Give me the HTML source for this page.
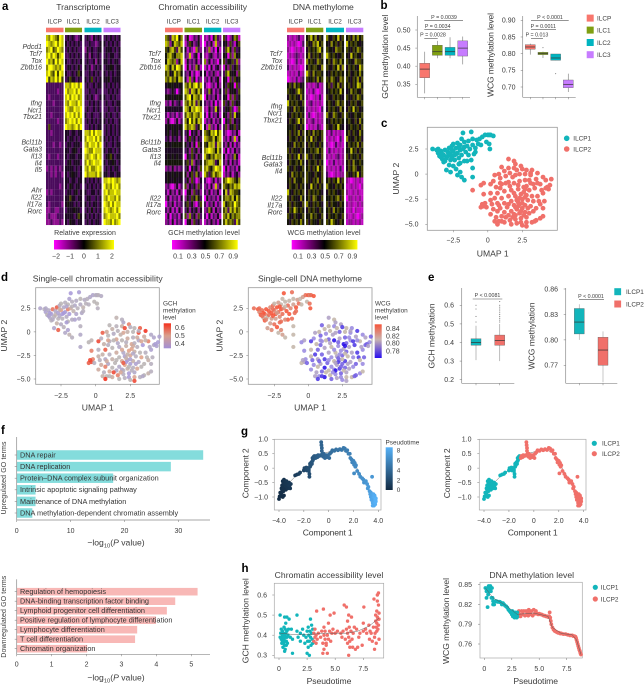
<!DOCTYPE html>
<html lang="en">
<head>
<meta charset="utf-8">
<title>ILC chromatin accessibility and DNA methylation figure</title>
<style>
html,body{margin:0;padding:0;background:#fff;width:644px;height:685px;overflow:hidden}
svg{display:block}
text{font-family:"Liberation Sans",sans-serif;fill:#3c3c3c;font-size:7px}
.letter{font-weight:700;font-size:11.5px;fill:#000}
.title{font-size:8.6px}
.axt{font-size:8.6px}
.gene{font-size:6.9px;font-style:italic;text-anchor:end}
.head{font-size:6.4px;text-anchor:middle}
.mid{text-anchor:middle}
.leg{font-size:6.4px}
.p{font-size:5.3px;text-anchor:middle}
.go{font-size:7.3px;fill:#333}
</style>
</head>
<body>
<svg id="fig" xmlns="http://www.w3.org/2000/svg" width="644" height="685" viewBox="0 0 644 685">
<defs>
<linearGradient id="gradHeat" x1="0" x2="1" y1="0" y2="0"><stop offset="0" stop-color="#ff00ff"/><stop offset="0.5" stop-color="#000"/><stop offset="1" stop-color="#ffff00"/></linearGradient>
<linearGradient id="gradGch" x1="0" x2="0" y1="0" y2="1"><stop offset="0" stop-color="#f5301c"/><stop offset="0.5" stop-color="#d9a08e"/><stop offset="1" stop-color="#a28fd6"/></linearGradient>
<linearGradient id="gradWcg" x1="0" x2="0" y1="0" y2="1"><stop offset="0" stop-color="#f5553a"/><stop offset="0.45" stop-color="#c9b4b0"/><stop offset="1" stop-color="#2a10f0"/></linearGradient>
<linearGradient id="gradPt" x1="0" x2="0" y1="0" y2="1"><stop offset="0" stop-color="#56b1f7"/><stop offset="1" stop-color="#132b43"/></linearGradient>
</defs>

<g id="panel-a">
<text class="letter" x="2" y="10">a</text>
<text class="title mid" x="83.3" y="10" textLength="54">Transcriptome</text>
<text class="title mid" x="202.7" y="10" textLength="88.7">Chromatin accessibility</text>
<text class="title mid" x="323.3" y="10" textLength="61">DNA methylome</text>

<text class="gene" x="42" y="49">Pdcd1</text>
<text class="gene" x="42" y="56">Tcf7</text>
<text class="gene" x="42" y="63">Tox</text>
<text class="gene" x="42" y="69.6">Zbtb16</text>
<text class="gene" x="42" y="105.6">Ifng</text>
<text class="gene" x="42" y="112.3">Ncr1</text>
<text class="gene" x="42" y="119">Tbx21</text>
<text class="gene" x="42" y="144.3">Bcl11b</text>
<text class="gene" x="42" y="151.3">Gata3</text>
<text class="gene" x="42" y="158.3">Il13</text>
<text class="gene" x="42" y="165.3">Il4</text>
<text class="gene" x="42" y="172">Il5</text>
<text class="gene" x="42" y="192.3">Ahr</text>
<text class="gene" x="42" y="199.3">Il22</text>
<text class="gene" x="42" y="206.3">Il17a</text>
<text class="gene" x="42" y="213.3">Rorc</text>

<text class="gene" x="161" y="56">Tcf7</text>
<text class="gene" x="161" y="63">Tox</text>
<text class="gene" x="161" y="69.6">Zbtb16</text>
<text class="gene" x="161" y="105.3">Ifng</text>
<text class="gene" x="161" y="112.3">Ncr1</text>
<text class="gene" x="161" y="119.3">Tbx21</text>
<text class="gene" x="161" y="144.3">Bcl11b</text>
<text class="gene" x="161" y="151.8">Gata3</text>
<text class="gene" x="161" y="158.8">Il13</text>
<text class="gene" x="161" y="165.3">Il4</text>
<text class="gene" x="161" y="200.3">Il22</text>
<text class="gene" x="161" y="207">Il17a</text>
<text class="gene" x="161" y="214.3">Rorc</text>

<text class="gene" x="282.3" y="56">Tcf7</text>
<text class="gene" x="282.3" y="63">Tox</text>
<text class="gene" x="282.3" y="69.6">Zbtb16</text>
<text class="gene" x="282.3" y="108.3">Ifng</text>
<text class="gene" x="282.3" y="115.3">Ncr1</text>
<text class="gene" x="282.3" y="122.3">Tbx21</text>
<text class="gene" x="282.3" y="159.8">Bcl11b</text>
<text class="gene" x="282.3" y="166.3">Gata3</text>
<text class="gene" x="282.3" y="173.3">Il4</text>
<text class="gene" x="282.3" y="200.3">Il22</text>
<text class="gene" x="282.3" y="207.3">Il17a</text>
<text class="gene" x="282.3" y="214.3">Rorc</text>

<text class="leg mid" x="85" y="235" style="font-size:7px" textLength="61.7">Relative expression</text>
<text class="leg mid" x="204" y="235" style="font-size:7px" textLength="71.7">GCH methylation level</text>
<text class="leg mid" x="324" y="235" style="font-size:7px" textLength="73">WCG methylation level</text>
<rect x="54" y="240" width="60" height="9.5" fill="url(#gradHeat)"/>
<rect x="172" y="240" width="65.7" height="9.5" fill="url(#gradHeat)"/>
<rect x="291.7" y="240" width="65.7" height="9.5" fill="url(#gradHeat)"/>
</g>

<g id="panel-b">
<text class="letter" x="380.5" y="9">b</text>
<text class="axt mid" transform="translate(388,56.7) rotate(-90)" textLength="84">GCH methylation level</text>
<text class="axt mid" transform="translate(493.5,55) rotate(-90)" textLength="84">WCG methylation level</text>
<text class="p" x="444" y="19">P = 0.0039</text>
<text class="p" x="437.7" y="28">P = 0.0034</text>
<text class="p" x="433" y="36.5">P = 0.0028</text>
<text class="p" x="550" y="18.8">P &lt; 0.0001</text>
<text class="p" x="543.3" y="27.8">P = 0.0011</text>
<text class="p" x="537" y="36.3">P = 0.013</text>
<path d="M424.3 20.7H463M424.3 29.7H450.3M424.3 38.7H437.7M531 20.3H568.7M531 29.3H556M531 38.3H543" stroke="#555" stroke-width=".6" fill="none"/>
<rect x="586.7" y="14.6" width="7" height="7" fill="#f8766d"/>
<rect x="586.7" y="26.6" width="7" height="7" fill="#7f9f12"/>
<rect x="586.7" y="39" width="7" height="7" fill="#00b4c0"/>
<rect x="586.7" y="51.2" width="7" height="7" fill="#c77cff"/>
<text class="leg" x="597" y="20.3">ILCP</text>
<text class="leg" x="597" y="32.3">ILC1</text>
<text class="leg" x="597" y="44.8">ILC2</text>
<text class="leg" x="597" y="57">ILC3</text>
</g>

<g id="panel-c">
<text class="letter" x="381" y="127">c</text>
<rect x="427.3" y="127.3" width="130" height="103" fill="none" stroke="#999" stroke-width=".8"/>
<text class="axt mid" transform="translate(399,178.7) rotate(-90)">UMAP 2</text>
<text class="axt mid" x="492.7" y="256.5">UMAP 1</text>
<circle cx="566.7" cy="138.3" r="2.8" fill="#12b5bb"/>
<circle cx="566.7" cy="149" r="2.8" fill="#f0706a"/>
<text class="leg" x="573.3" y="140.6">ILCP1</text>
<text class="leg" x="573.3" y="151.3">ILCP2</text>
</g>

<g id="panel-d">
<text class="letter" x="1" y="281">d</text>
<text class="title mid" x="97.7" y="281.5" textLength="130">Single-cell chromatin accessibility</text>
<text class="title mid" x="310" y="281.5" textLength="104">Single-cell DNA methylome</text>
<rect x="35.7" y="287.7" width="123.6" height="96.6" fill="none" stroke="#999" stroke-width=".8"/>
<rect x="248.3" y="287.7" width="123.7" height="96.6" fill="none" stroke="#999" stroke-width=".8"/>
<text class="axt mid" transform="translate(7,335.7) rotate(-90)">UMAP 2</text>
<text class="axt mid" transform="translate(222.5,335.7) rotate(-90)">UMAP 2</text>
<text class="axt mid" x="97.7" y="410.5">UMAP 1</text>
<text class="axt mid" x="310" y="410.5">UMAP 1</text>
<text class="leg" x="163" y="305.3">GCH</text>
<text class="leg" x="163" y="312.7">methylation</text>
<text class="leg" x="163" y="319.5">level</text>
<rect x="163.7" y="323.3" width="7.3" height="25" fill="url(#gradGch)"/>
<text class="leg" x="175" y="330" style="font-size:7px">0.6</text>
<text class="leg" x="175" y="338" style="font-size:7px">0.5</text>
<text class="leg" x="175" y="346" style="font-size:7px">0.4</text>
<text class="leg" x="375" y="305.3">WCG</text>
<text class="leg" x="375" y="312.3">methylation</text>
<text class="leg" x="375" y="319.3">level</text>
<rect x="374.7" y="324.3" width="7" height="33.7" fill="url(#gradWcg)"/>
<text class="leg" x="386" y="331" style="font-size:7px">0.84</text>
<text class="leg" x="386" y="338.6" style="font-size:7px">0.82</text>
<text class="leg" x="386" y="345.6" style="font-size:7px">0.80</text>
<text class="leg" x="386" y="353.6" style="font-size:7px">0.78</text>
</g>

<g id="panel-e">
<text class="letter" x="428" y="281">e</text>
<text class="axt mid" transform="translate(434.5,336) rotate(-90)" textLength="65">GCH methylation</text>
<text class="axt mid" transform="translate(534.5,336) rotate(-90)" textLength="67">WCG methylation</text>
<text class="p" x="487.5" y="297">P &lt; 0.0081</text>
<text class="p" x="591" y="298">P &lt; 0.0001</text>
<path d="M472.7 299H502.3M579 299.6H604" stroke="#555" stroke-width=".6" fill="none"/>
<rect x="614.3" y="288.2" width="6.8" height="7" fill="#12b5bb"/>
<rect x="614.3" y="300.5" width="6.8" height="7" fill="#f0706a"/>
<text class="leg" x="626" y="294">ILCP1</text>
<text class="leg" x="626" y="306.3">ILCP2</text>
</g>

<g id="panel-f">
<text class="letter" x="1" y="434">f</text>
<text class="leg mid" transform="translate(6,478) rotate(-90)" style="font-size:7px" textLength="73">Upregulated GO terms</text>
<text class="leg mid" transform="translate(6,616.7) rotate(-90)" style="font-size:7px" textLength="82">Downregulated GO terms</text>
<text class="axt mid" x="116" y="545.5">−log<tspan dy="1.8" font-size="5.8">10</tspan><tspan dy="-1.8">(</tspan><tspan font-style="italic">P</tspan> value)</text>
<text class="axt mid" x="116" y="680.5">−log<tspan dy="1.8" font-size="5.8">10</tspan><tspan dy="-1.8">(</tspan><tspan font-style="italic">P</tspan> value)</text>
</g>

<g id="panel-g">
<text class="letter" x="241" y="435">g</text>
<rect x="274.3" y="439.3" width="106.7" height="70.7" fill="none" stroke="#aaa" stroke-width=".7"/>
<rect x="479.3" y="439.3" width="106.7" height="70.7" fill="none" stroke="#aaa" stroke-width=".7"/>
<text class="axt mid" transform="translate(248.5,473.3) rotate(-90)" textLength="50">Component 2</text>
<text class="axt mid" transform="translate(450,473.3) rotate(-90)" textLength="50">Component 2</text>
<text class="axt mid" x="327.7" y="535.5" textLength="50">Component 1</text>
<text class="axt mid" x="532.7" y="535.5" textLength="50">Component 1</text>
<text class="leg" x="385.5" y="444.5">Pseudotime</text>
<rect x="385.7" y="447.3" width="7" height="42.7" fill="url(#gradPt)"/>
<text class="leg" x="396.7" y="452.6">8</text>
<text class="leg" x="396.7" y="462.6">6</text>
<text class="leg" x="396.7" y="472.3">4</text>
<text class="leg" x="396.7" y="482.3">2</text>
<text class="leg" x="396.7" y="492">0</text>
<circle cx="594.3" cy="443.3" r="2.6" fill="#12b5bb"/>
<circle cx="594.3" cy="453.7" r="2.6" fill="#f0706a"/>
<text class="leg" x="602" y="445.6">ILCP1</text>
<text class="leg" x="602" y="456">ILCP2</text>
</g>

<g id="panel-h">
<text class="letter" x="241.5" y="572">h</text>
<rect x="274.3" y="583.3" width="109.4" height="74.7" fill="none" stroke="#aaa" stroke-width=".7"/>
<rect x="480" y="582.3" width="102.3" height="75.7" fill="none" stroke="#aaa" stroke-width=".7"/>
<text class="title mid" x="329" y="578" textLength="108.7">Chromatin accessibility level</text>
<text class="title mid" x="531.7" y="578" textLength="84.7">DNA methylation level</text>
<text class="axt mid" x="329" y="684" textLength="44.7">Pseudotime</text>
<text class="axt mid" x="535.7" y="684" textLength="44.7">Pseudotime</text>
<text class="axt mid" transform="translate(248.5,620.7) rotate(-90)" textLength="85">GCH methylation level</text>
<text class="axt mid" transform="translate(449,621) rotate(-90)" textLength="86">WCG methylation level</text>
<circle cx="595.3" cy="587.3" r="2.6" fill="#12b5bb"/>
<circle cx="595.3" cy="599" r="2.6" fill="#f0706a"/>
<text class="leg" x="600.7" y="589.6">ILCP1</text>
<text class="leg" x="600.7" y="601.3">ILCP2</text>
</g>
</svg>

<script>
/* ===== DATA ===== */
const heatGroups = ['ILCP','ILC1','ILC2','ILC3'];
const heatTranscriptome = [
"87987698 34343234 34324343 34343434","98789798 43434343 33433234 43434343","78967987 34343433 24343344 34443434","89798689 33434343 34243343 34344334",
"97869798 43343434 34334243 44343443","79987879 34434353 43423434 34454344","89769698 43343464 33434343 43434344","96879796 34644343 43463434 44534444",
"33333333 88798979 34334344 34343434","33333233 97889798 33433433 33434343","32333333 89798978 34343234 43343433","33323333 87988798 33434343 34334344",
"33333333 98779889 34334343 33433434","33233333 89897979 43343334 34343343","33333233 78989798 34343434 43434334","36333333 98878979 33434344 34343434",
"33233333 44344344 88797988 34343434","33333333 43443434 79889797 43434343","33323323 34434443 87988979 34334344","33333333 44345434 98779888 43443434",
"32333233 43444344 87898798 34564344","33333333 34534443 79789889 43445434","23232323 44443434 87977898 34343443","33232332 43454434 97888797 44344344",
"33333333 44344344 43434343 88989878","33333323 43543443 34343434 97879897","23233333 34434534 43344343 89788988","33333333 44644344 34433434 87988797",
"32333332 45443434 43434434 98797988","22332233 34445443 34353434 89878979","23222333 44443464 43434343 78988897","22322232 43544344 34343443 98879789"
];
const heatChromatin = [
"76387957 25013241 21304732 63024761","87258768 13642351 03241823 45263146","65786386 41320732 32713041 36852634","57865778 32813504 21342132 54062745",
"58767258 14232413 72413204 63546372","87586986 05132741 13041342 15263463","67458675 32413014 41324213 36854526","76867587 41725032 23142351 54063645",
"45554545 76868968 31023142 53645063","32353035 87387586 23741324 36254536","55454555 68958768 04232413 45062635","23142342 76868375 32314031 63526354",
"44444444 87587987 21423842 35463026","31323132 68768768 30413241 54263845","24102413 75968587 13241324 05362534","45454545 86787358 41723142 36254635",
"45354535 35043524 76587968 32013241","34243424 24635243 87668578 23142814","55455555 53425064 65878387 32514132","44444444 34263524 78987586 14031423",
"45454544 05364253 86576877 41323741","55555555 46372435 67887358 32414231","23242323 35043526 78657987 04132314","45454545 52463742 86368678 13241342",
"45445444 35263024 31024132 67987657","23102413 62435263 23141824 76576878","31423142 04526342 32413241 58387665","24132314 25364753 04232314 67768586",
"03241323 46352036 31324132 85676976","32413142 35243524 23741423 67386867","14032314 62735263 30413241 76857677","23141323 04526342 13242314 68676386"
];
const heatMethylome = [
"21212312 56857465 75465846 56475756","12121013 65476856 54756465 85656545","21012121 46565785 65547665 65465765","12123212 57465646 86565456 54856546",
"21013121 75654765 56476575 65547665","31212101 46566547 65465847 46565486","12121312 86475665 54656565 56456575","01213123 65564756 65765476 65465746",
"56475645 21212312 56365746 56465875","65546865 12131012 45656585 45756546","46565475 21012131 65465654 65465765","85656546 12312121 56546756 54656456",
"65475655 21212103 46565475 46585645","54656565 13101212 75476546 65456556","46546856 21231212 54656565 56546475","55565465 02121321 65465854 45655646",
"56465746 56475656 21312121 56465475","46556465 65846546 12121031 75546564","55475656 46565465 21013121 46565746","64655465 55656756 13121212 55856465",
"56465846 75465546 21212312 64655646","46556575 46556465 02131212 56475565","65465456 56465856 21212131 46576456","54756565 65546546 31012122 65465846",
"56475556 65465746 56465846 21012121","46556465 54856465 75546565 11212102","85465656 46565654 46565456 21121211","64655475 56476546 55656746 02212121",
"56465546 75465654 64655465 21211212","46586565 46565465 56475655 11202111","65465456 55756546 46556546 21121012","54656575 64655465 65865465 12212121"
];
const heatExprTickLabels = ['−2','−1','0','1','2'];
const heatMethTickLabels = ['0.1','0.3','0.5','0.7','0.9'];

const bCategories = ['ILCP','ILC1','ILC2','ILC3'];
const bGchTicks = [0.35,0.40,0.45,0.50];
const bGchTickLabels = ['0.35','0.40','0.45','0.50'];
const bGchQ1 = [0.368,0.430,0.430,0.428];
const bGchMedian = [0.392,0.440,0.440,0.450];
const bGchQ3 = [0.408,0.458,0.452,0.470];
const bGchLow = [0.325,0.422,0.422,0.405];
const bGchHigh = [0.440,0.470,0.480,0.482];
const bWcgTicks = [0.70,0.75,0.80,0.85,0.90];
const bWcgTickLabels = ['0.70','0.75','0.80','0.85','0.90'];
const bWcgQ1 = [0.813,0.797,0.780,0.698];
const bWcgMedian = [0.820,0.801,0.787,0.708];
const bWcgQ3 = [0.827,0.804,0.799,0.721];
const bWcgLow = [0.797,0.787,0.780,0.685];
const bWcgHigh = [0.830,0.806,0.799,0.740];
const bWcgOutliers = [[],[0.818],[0.740],[]];

const umapTicksX = [-2.5,0,2.5];
const umapTickLabelsX = ['−2.5','0','2.5'];
const umapTicksY = [-5,-2.5,0,2.5];
const umapTickLabelsY = ['−5.0','−2.5','0','2.5'];
const umapIlcp1 = [
[-4.0,2.5],[-3.7,2.4],[-3.6,2.1],[-3.5,1.8],[-3.3,1.5],[-3.4,2.3],[-3.1,2.4],[-3.2,1.9],[-3.0,1.6],[-2.9,2.2],
[-2.9,1.8],[-2.8,2.6],[-2.7,2.0],[-2.7,1.4],[-2.6,2.8],[-2.6,1.7],[-2.5,2.3],[-2.5,3.0],[-2.4,1.9],[-2.4,1.4],
[-2.3,2.6],[-2.2,2.1],[-2.2,3.1],[-2.1,1.6],[-2.0,2.4],[-2.0,2.9],[-1.9,1.9],[-1.9,3.5],[-1.8,4.1],[-1.8,2.5],
[-1.7,3.2],[-1.6,2.2],[-1.5,2.8],[-1.4,3.3],[-1.4,1.9],[-1.3,2.5],[-1.2,4.2],[-1.1,3.5],[-1.1,2.9],[-1.0,2.0],
[-0.9,2.6],[-0.8,3.4],[-0.7,3.0],[-0.6,3.5],[-0.4,3.7],[-0.2,3.9],[-0.1,3.2],[0.0,3.9],[0.1,3.9],[0.2,3.9],
[0.1,3.0],[0.15,2.5],[-3.0,0.4],[-2.5,0.8],[-2.7,0.2],[-2.3,0.5],[-2.2,-0.1],[-2.0,0.2],[-1.9,-0.3],[-1.7,-0.6],
[-1.1,-0.3],[-1.1,0.6],[-1.5,1.3],[-2.0,1.1],[-2.8,0.9],[-3.2,1.2],[-2.1,1.0],[-1.7,1.3],[-3.6,2.5],[-0.9,2.2],
[-3.3,2.0],[-3.1,1.3],[-2.6,2.4],[-2.3,2.0],[-2.1,2.7],[-1.7,2.7],[-0.5,2.9],[-1.2,1.4],[0.4,3.8],[-3.4,1.7]
];
const umapIlcp2 = [
[1.5,1.5],[1.9,1.3],[2.0,1.0],[1.0,0.7],[1.5,0.6],[1.9,0.6],[2.4,0.8],[2.5,0.5],[2.8,0.4],[3.2,0.4],
[3.6,0.1],[4.0,-0.3],[4.6,-0.5],[4.2,-0.6],[4.5,-1.1],[4.2,-1.4],[3.8,-1.0],[3.5,-0.5],[3.1,-0.1],[2.7,0.0],
[2.3,0.0],[2.0,-0.1],[1.6,0.1],[1.3,-0.2],[0.9,-0.4],[0.5,-0.1],[0.8,0.0],[0.4,-0.7],[-0.3,-0.9],[-0.5,-1.1],
[0.2,-1.0],[0.6,-1.3],[1.0,-1.0],[1.5,-0.8],[1.9,-0.9],[2.3,-0.7],[2.7,-0.6],[3.1,-0.9],[3.4,-1.4],[3.0,-1.6],
[2.6,-1.3],[2.2,-1.5],[1.7,-1.6],[1.2,-1.7],[0.7,-1.9],[0.2,-1.9],[-0.3,-2.0],[-1.1,-1.6],[0.5,-2.4],[1.0,-2.4],
[1.5,-2.2],[2.0,-2.2],[2.4,-2.0],[2.8,-2.1],[3.2,-2.2],[3.6,-2.2],[4.0,-1.9],[4.3,-1.3],[3.7,-2.7],[3.3,-2.7],
[2.9,-2.6],[2.5,-2.5],[2.1,-2.6],[1.7,-2.7],[1.2,-2.9],[0.7,-2.9],[0.3,-3.0],[-0.3,-3.2],[-0.5,-3.3],[-0.2,-2.9],
[-0.4,-3.0],[-0.1,-3.3],[0.4,-3.5],[0.9,-3.4],[1.4,-3.3],[1.9,-3.1],[2.3,-3.0],[2.7,-3.1],[3.1,-3.2],[3.5,-3.4],
[4.0,-3.4],[3.8,-3.0],[2.5,-3.4],[2.1,-3.5],[1.7,-3.7],[1.2,-3.8],[0.7,-3.7],[0.2,-4.0],[0.6,-4.3],[1.0,-4.2],
[1.5,-4.1],[1.9,-4.0],[2.3,-3.9],[2.7,-3.8],[3.0,-3.9],[3.5,-4.6],[3.8,-4.4],[4.0,-4.2],[2.8,-4.3],[2.4,-4.4],
[2.0,-4.5],[1.6,-4.6],[1.2,-4.8],[0.8,-4.7],[0.5,-4.7],[0.7,-5.0],[1.7,-5.0],[2.1,-4.9],[2.4,-4.8],[2.8,-4.8],
[2.8,-5.2],[2.5,-5.1],[3.2,-4.8],[3.4,-4.7],[2.2,-3.2],[2.5,-2.9],[2.3,-2.4],[2.6,-1.8],[2.8,-1.2],[3.0,-0.6],
[1.6,-1.2],[1.3,-0.9],[0.9,-0.9],[1.8,-0.3],[2.1,0.4],[2.2,-1.1],[1.9,-1.9],[2.9,-3.4],[2.4,-3.7],[2.0,-4.1],
[1.3,-4.3],[3.3,-3.7],[4.1,-2.7],[3.9,-1.6],[3.3,-1.0],[0.2,-2.6],[0.9,-1.4],[2.7,-1.5],[3.6,-0.9],[4.4,-1.5],
[1.0,-4.7],[1.8,-4.3],[2.6,-4.1],[2.2,-2.8],[2.0,-3.3],[2.7,-2.3],[1.5,-3.0],[0.8,-3.1],[3.1,0.1],[1.2,0.3]
];
const gchIlcp1 = [
.39,.42,.38,.44,.40,.41,.56,.37,.42,.40,.45,.58,.38,.43,.41,.40,.52,.44,.36,.43,
.40,.37,.42,.41,.55,.44,.36,.38,.36,.48,.42,.45,.40,.41,.39,.43,.37,.44,.41,.40,
.45,.41,.43,.42,.40,.39,.44,.42,.41,.43,.44,.42,.39,.41,.58,.43,.40,.38,.45,.42,
.40,.42,.38,.44,.46,.43,.37,.41,.40,.42,.37,.41,.46,.36,.39,.43,.42,.40,.41,.38
];
const gchIlcp2 = [
.45,.42,.40,.44,.43,.47,.55,.42,.44,.58,.62,.40,.38,.39,.37,.41,.55,.48,.60,.44,
.46,.50,.43,.41,.44,.58,.48,.42,.45,.44,.60,.46,.42,.50,.44,.48,.42,.40,.36,.42,
.50,.46,.40,.44,.58,.42,.55,.40,.46,.42,.48,.40,.52,.46,.44,.42,.38,.37,.44,.52,
.42,.50,.38,.44,.46,.40,.42,.60,.58,.55,.60,.42,.48,.40,.44,.50,.38,.46,.40,.44,
.42,.46,.37,.52,.40,.44,.55,.48,.42,.50,.40,.38,.46,.42,.50,.44,.46,.42,.40,.36,
.42,.55,.48,.44,.46,.62,.44,.42,.36,.50,.60,.44,.42,.40,.36,.38,.46,.52,.42,.48,
.40,.44,.50,.46,.60,.42,.50,.38,.44,.42,.60,.44,.42,.40,.50,.46,.42,.48,.46,.38,
.44,.50,.42,.46,.58,.40,.44,.48,.42,.46
];
const wcgIlcp1 = [
.84,.85,.83,.85,.82,.84,.85,.84,.81,.85,.84,.83,.85,.82,.84,.85,.83,.81,.85,.82,
.85,.84,.82,.83,.85,.81,.84,.81,.85,.83,.81,.85,.84,.81,.85,.83,.84,.81,.82,.84,
.85,.82,.84,.81,.82,.84,.81,.85,.83,.84,.84,.85,.82,.84,.83,.85,.81,.83,.82,.81,
.81,.81,.85,.84,.82,.85,.84,.83,.84,.84,.85,.83,.84,.82,.85,.81,.81,.84,.85,.84
];
const wcgIlcp2 = [
.80,.81,.80,.78,.81,.79,.80,.77,.81,.79,.77,.79,.78,.80,.79,.78,.81,.80,.79,.81,
.78,.80,.81,.79,.78,.80,.81,.79,.80,.79,.77,.81,.79,.78,.76,.80,.78,.79,.77,.80,
.76,.79,.81,.80,.78,.81,.79,.81,.77,.78,.80,.81,.79,.78,.80,.77,.79,.78,.77,.79,
.81,.78,.80,.79,.77,.80,.78,.80,.81,.79,.80,.78,.79,.80,.78,.81,.79,.77,.80,.78,
.79,.81,.78,.80,.79,.76,.81,.79,.80,.78,.81,.79,.77,.78,.80,.78,.79,.81,.80,.78,
.79,.81,.76,.79,.80,.77,.78,.80,.79,.81,.80,.79,.81,.78,.77,.81,.79,.80,.78,.79,
.80,.81,.79,.80,.81,.78,.79,.80,.78,.76,.81,.79,.78,.80,.77,.81,.78,.76,.79,.80,
.77,.79,.81,.78,.80,.81,.79,.78,.80,.81
];

const eGchTicks = [0.2,0.3,0.4,0.5,0.6];
const eGchTickLabels = ['0.2','0.3','0.4','0.5','0.6'];
const eGchQ1 = [0.385,0.385];
const eGchMedian = [0.400,0.410];
const eGchQ3 = [0.420,0.440];
const eGchLow = [0.305,0.300];
const eGchHigh = [0.490,0.500];
const eGchOutliers = [[0.51,0.54,0.58,0.60],[0.51,0.52,0.53,0.54,0.55,0.56,0.57,0.58,0.59,0.60,0.62]];
const eWcgTicks = [0.77,0.80,0.83,0.86];
const eWcgTickLabels = ['0.77','0.80','0.83','0.86'];
const eWcgQ1 = [0.807,0.770];
const eWcgMedian = [0.821,0.788];
const eWcgQ3 = [0.837,0.803];
const eWcgLow = [0.800,0.750];
const eWcgHigh = [0.842,0.810];

const goUpTerms = ['DNA repair','DNA replication','Protein–DNA complex subunit organization','Intrinsic apoptotic signaling pathway','Maintenance of DNA methylation','DNA methylation-dependent chromatin assembly'];
const goUpValues = [34.6,28.6,17.9,3.5,3.5,2.9];
const goUpTicks = [0,10,20,30];
const goDownTerms = ['Regulation of hemopoiesis','DNA-binding transcription factor binding','Lymphoid progenitor cell differentiation','Positive regulation of lymphocyte differentiation','Lymphocyte differentiation','T cell differentiation','Chromatin organization'];
const goDownValues = [5.18,4.54,4.30,3.99,3.45,3.39,2.02];
const goDownTicks = [0,1,2,3,4,5];

const trajTicksX = [-4,-2,0,2,4];
const trajTickLabelsX = ['−4.0','−2.0','0','2.0','4.0'];
const trajTicksY = [-1,-0.5,0,0.5,1];
const trajTickLabelsY = ['−1.0','−0.5','0','0.5','1.0'];
const trajClusterSplit = 3.1;
const trajPoints = [
[-4,-1.07,0.1],[-3.95,-.98,.15],[-3.9,-.85,.2],[-3.85,-.95,.2],[-3.8,-.7,.3],[-3.8,-.85,.25],[-3.75,-.6,.35],[-3.75,-.75,.3],[-3.7,-1,.1],[-3.7,-.45,.5],
[-3.7,-.6,.45],[-3.65,-.8,.35],[-3.65,-.5,.5],[-3.6,-.95,.15],[-3.6,-.7,.4],[-3.6,-.4,.6],[-3.55,-.55,.55],[-3.5,-.6,.6],[-3.5,-.45,.6],[-3.45,-.75,.4],
[-3.45,-.55,.65],[-3.4,-.65,.6],[-3.4,-.45,.7],[-3.35,-.55,.7],[-3.3,-.7,.6],[-3.25,-.6,.8],[-3.2,-.5,.85],[-3.15,-.6,.9],[-3.05,-.55,.95],[-3.1,-.7,.8],
[-2.7,-.25,1.1],[-2.55,-.22,1.2],[-2.4,-.2,1.35],[-2.3,-.15,1.5],[-2.0,-.08,1.7],[-1.95,0,1.8],[-1.9,-.05,1.85],[-1.8,.02,2],[-1.75,-.08,2.1],[-1.7,0,2.15],
[-1.65,-.02,2.2],[-1.6,-.1,2.25],[-1.55,-.2,2.3],[-1.55,-.3,2.3],[-1.6,-.05,2.35],[-1.5,.05,2.4],[-1.5,.15,2.5],[-1.45,.1,2.55],[-1.4,.2,2.6],[-1.35,.15,2.7],
[-1.3,.25,2.8],[-1.3,.35,2.85],[-1.25,.3,2.9],[-1.2,.4,3.0],[-1.15,.42,3.05],[-1.05,.35,3.15],[-1,.42,3.2],[-.9,.38,3.3],[-.85,.45,3.4],[-.75,.42,3.5],
[-.65,.45,3.6],[-.6,.9,3.7],[-.58,.8,3.7],[-.55,.7,3.75],[-.55,.6,3.8],[-.5,.5,3.85],[-.45,.4,3.9],[-.4,.5,3.95],[-.3,.35,4],[-.2,.45,4.1],
[-.15,.38,4.15],[-.05,.45,4.2],[.05,.35,4.3],[.1,.5,4.35],[.2,.55,4.4],[.3,.62,4.5],[.45,.6,4.6],[.6,.65,4.7],[.75,.62,4.8],[.9,.66,4.9],
[1.05,.63,5],[1.2,.7,5.1],[1.3,.68,5.2],[1.4,.6,5.3],[1.5,.62,5.4],[1.6,.5,5.5],[1.7,.5,5.6],[1.75,.35,5.7],[1.85,.3,5.8],[1.9,.2,5.9],
[2,.25,6],[2.05,.12,6.05],[2.1,.18,6.1],[2.15,.05,6.2],[2.2,.1,6.25],[2.05,-.18,6.3],[2.3,-.1,6.4],[2.45,-.2,6.5],[2.55,-.3,6.6],[2.7,-.35,6.7],
[2.8,-.4,6.8],[2.85,-.5,6.9],[3.0,-.45,7],[3.5,-.3,7.1],[3.1,-.55,7.2],[3.15,-.7,7.3],[3.2,-.65,7.35],[3.3,-.8,7.5],[3.35,-.9,7.6],[3.4,-.85,7.7],
[3.4,-1,7.8],[3.45,-.95,7.9],[3.5,-1.1,8],[3.5,-.9,8],[3.55,-1.05,8.1],[3.55,-1.2,8.2],[3.6,-1,8.3],[3.6,-1.15,8.4],[3.65,-1.3,8.5],[3.65,-1.05,8.5],
[3.7,-1.2,8.6],[3.7,-1,8.6],[3.75,-1.1,8.7],[3.75,-1.25,8.7],[3.8,-1.05,8.8],[3.8,-1.15,8.8],[3.6,-.9,8.3],[3.45,-1.1,8.1],[3.7,-.95,8.5],[3.55,-1.3,8.4]
];
const trajCurve = [[-4,-1],[-3.4,-.6],[-2.6,-.25],[-1.8,0],[-1.2,.3],[-.5,.5],[.3,.6],[1,.65],[1.6,.5],[2.2,.05],[2.9,-.45],[3.4,-.9],[3.7,-1.15]];

const hTicksX = [0,2.5,5,7.5];
const hTickLabelsX = ['0','2.5','5.0','7.5'];
const hGchTicks = [0.3,0.4,0.5,0.6];
const hGchTickLabels = ['0.3','0.4','0.5','0.6'];
const hWcgTicks = [0.76,0.79,0.82,0.85];
const hWcgTickLabels = ['0.76','0.79','0.82','0.85'];
const hGchIlcp1 = [
[.1,.39],[.1,.5],[.15,.41],[.2,.38],[.2,.43],[.25,.36],[.3,.4],[.3,.37],[.3,.42],[.35,.39],
[.35,.34],[.4,.41],[.4,.36],[.45,.44],[.45,.38],[.5,.32],[.5,.4],[.5,.35],[.5,.49],[.55,.37],
[.55,.43],[.55,.33],[.6,.39],[.6,.41],[.6,.46],[.65,.35],[.65,.37],[.7,.49],[.7,.42],[.7,.39],
[.75,.36],[.8,.4],[.85,.43],[.9,.48],[1,.39],[1.1,.43],[1.2,.38],[1.2,.31],[1.6,.42],[1.6,.5],
[1.7,.39],[1.9,.41],[1.9,.37],[2.1,.43],[2.2,.4],[2.3,.36],[2.4,.39],[2.5,.42],[2.5,.31],[2.55,.37],
[2.6,.44],[2.6,.34],[2.65,.4],[2.7,.3],[2.7,.37],[2.75,.42],[2.8,.39],[2.8,.48],[2.85,.35],[2.9,.41],
[2.9,.45],[2.95,.38],[3,.36],[3,.43]
];
const hGchIlcp2 = [
[3.1,.41],[3.1,.37],[3.2,.39],[3.2,.43],[3.3,.4],[3.3,.36],[3.35,.52],[3.4,.38],[3.5,.41],[3.7,.39],
[3.8,.42],[3.9,.36],[3.9,.31],[3.95,.53],[4,.4],[4,.33],[4,.44],[4.1,.38],[4.1,.42],[4.2,.36],
[4.2,.35],[4.3,.4],[4.3,.31],[4.4,.46],[4.4,.38],[4.5,.42],[4.55,.5],[4.6,.37],[4.7,.41],[4.8,.43],
[4.9,.51],[5,.41],[5.2,.42],[5.5,.41],[5.6,.39],[5.7,.42],[5.8,.55],[5.9,.38],[6,.54],[6,.43],
[6.1,.36],[6.1,.47],[6.1,.41],[6.2,.39],[6.2,.5],[6.2,.3],[6.25,.44],[6.3,.37],[6.3,.34],[6.4,.42],
[6.45,.49],[6.5,.38],[6.55,.34],[6.6,.41],[6.7,.44],[6.8,.33],[6.9,.43],[7,.34],[7.1,.39],[7.2,.41],
[7.4,.35],[7.5,.42],[7.5,.46],[7.55,.54],[7.7,.43],[7.8,.41],[8,.45],[8.05,.38],[8.1,.42],[8.2,.41],
[8.3,.37],[8.4,.44],[8.45,.58],[8.5,.39],[8.5,.33],[8.55,.41],[8.6,.47],[8.6,.5],[8.65,.44],[8.65,.36],
[8.7,.52],[8.7,.42],[8.7,.46],[8.75,.6],[8.75,.57],[8.75,.49],[8.8,.43],[8.8,.48],[8.85,.61],[8.85,.55],
[8.85,.45],[8.9,.51],[8.9,.48],[8.9,.38]
];
const hGchTrend = [[.1,.41],[1,.405],[2,.402],[3,.405],[4,.41],[5,.41],[6,.41],[7,.42],[8,.445],[8.9,.485]];
const hWcgIlcp1 = [
[.1,.845],[.2,.84],[.2,.83],[.3,.845],[.3,.816],[.35,.835],[.4,.848],[.45,.84],[.5,.845],[.55,.848],
[.6,.84],[.65,.83],[.7,.845],[.75,.83],[.8,.825],[.8,.82],[.9,.82],[1,.825],[1.1,.825],[1.2,.824],
[1.3,.824],[1.4,.824],[1.5,.823],[1.6,.82],[1.7,.822],[1.8,.82],[1.9,.818],[2,.817],[2.1,.815],[2.2,.812],
[2.3,.81],[2.4,.808],[2.5,.805],[2.55,.81],[2.6,.802],[2.65,.808],[2.7,.805],[2.75,.8],[2.8,.808],[2.85,.802],
[2.9,.805],[2.95,.8],[3,.802],[3,.808]
];
const hWcgIlcp2 = [
[3.1,.802],[3.15,.81],[3.2,.805],[3.3,.802],[3.4,.81],[3.5,.805],[3.6,.81],[3.7,.803],[3.8,.81],[3.9,.806],
[4,.803],[4.05,.812],[4.1,.808],[4.2,.805],[4.3,.81],[4.4,.803],[4.5,.812],[4.6,.806],[4.7,.81],[4.8,.806],
[4.9,.805],[5,.806],[5.1,.805],[5.2,.805],[5.3,.804],[5.4,.803],[5.5,.803],[5.6,.802],[5.7,.802],[5.8,.801],
[5.9,.802],[5.95,.808],[6,.80],[6.05,.795],[6.1,.79],[6.2,.785],[6.3,.782],[6.4,.78],[6.5,.779],[6.6,.778],
[6.7,.777],[6.8,.777],[6.9,.776],[7,.776],[7.2,.775],[7.4,.775],[7.6,.774],[7.8,.773],[8,.773],[8.1,.772],
[8.2,.772],[8.3,.771],[8.35,.769],[8.4,.766],[8.45,.763],[8.5,.76],[8.55,.757],[8.6,.754],[8.65,.751],[8.7,.749],
[8.75,.746],[8.8,.744]
];
const hWcgTrend = [[.1,.845],[.8,.83],[2,.818],[3,.805],[4.5,.807],[5.8,.802],[6.2,.785],[7,.776],[8,.774],[8.4,.766],[8.8,.744]];

/* ===== HELPERS ===== */
const NS = 'http://www.w3.org/2000/svg';
const TEAL = '#12b5bb', RED = '#f0706a';
const GROUP_COLORS = ['#f8766d','#7f9f12','#00b4c0','#c77cff'];
function linear(d0, d1, r0, r1){ return v => r0 + (v - d0) / (d1 - d0) * (r1 - r0); }
function make(tag, attrs, parent){
  const n = document.createElementNS(NS, tag);
  for (const k in attrs) n.setAttribute(k, attrs[k]);
  parent.appendChild(n);
  return n;
}
function hex(c){ return [parseInt(c.slice(1,3),16),parseInt(c.slice(3,5),16),parseInt(c.slice(5,7),16)]; }
function ramp(stops, colors){
  const rgb = colors.map(hex);
  return v => {
    let i = 0;
    while (i < stops.length - 2 && v > stops[i + 1]) i++;
    const t = Math.max(0, Math.min(1, (v - stops[i]) / (stops[i + 1] - stops[i])));
    const c = rgb[i].map((a, j) => Math.round(a + (rgb[i + 1][j] - a) * t));
    return 'rgb(' + c.join(',') + ')';
  };
}
function axisBottom(parent, name, x, values, labels, y, tickY, drawLine, x0, x1){
  if (drawLine){
    const line = make('line', {x1:x0, x2:x1, y1:y, y2:y, stroke:'#8a8a8a', 'stroke-width':.7}, parent);
    
    
  }
  values.forEach((v, i) => {
    const t = make('line', {x1:x(v), x2:x(v), y1:y, y2:y + 2, stroke:'#8a8a8a', 'stroke-width':.6}, parent);
    
    
    const l = make('text', {x:x(v), y:tickY, 'text-anchor':'middle'}, parent);
    l.textContent = labels[i];
    
    
  });
}
function axisLeft(parent, name, y, values, labels, x, labelX, drawLine, y0, y1){
  if (drawLine){
    const line = make('line', {x1:x, x2:x, y1:y0, y2:y1, stroke:'#8a8a8a', 'stroke-width':.7}, parent);
    
    
  }
  values.forEach((v, i) => {
    const t = make('line', {x1:x - 2, x2:x, y1:y(v), y2:y(v), stroke:'#8a8a8a', 'stroke-width':.6}, parent);
    
    
    const l = make('text', {x:labelX, y:y(v) + 2.4, 'text-anchor':'end'}, parent);
    l.textContent = labels[i];
    
    
  });
}
function drawBoxes(parent, xc, y, q1, med, q3, lo, hi, outliers, colors, width, whiskerColor){
  q1.forEach((_, i) => {
    const cx = xc(i);
    const w = make('line', {x1:cx, x2:cx, y1:y(lo[i]), y2:y(hi[i]), stroke:whiskerColor, 'stroke-width':.7}, parent);
    
    
    const b = make('rect', {x:cx - width / 2, y:y(q3[i]), width:width, height:y(q1[i]) - y(q3[i]), fill:colors[i], stroke:'#5a5a5a', 'stroke-width':.35}, parent);
    
    
    const m = make('line', {x1:cx - width / 2, x2:cx + width / 2, y1:y(med[i]), y2:y(med[i]), stroke:'#333', 'stroke-width':.7}, parent);
    
    
    (outliers[i] || []).forEach(v => {
      const o = make('circle', {cx:cx, cy:y(v), r:.55, fill:'#777'}, parent);
      
      
    });
  });
}
function trend(parent, pts, x, y){
  const p = make('polyline', {points:pts.map(d => x(d[0]) + ',' + y(d[1])).join(' '), fill:'none', stroke:'#555', 'stroke-width':.45}, parent);
  
  
}

/* ===== HEATMAPS ===== */
const heatRamp = ramp([0,2,3,4,5,6,7,8,9], ['#f000f0','#8f108f','#4a0a5c','#1c0822','#14140a','#454500','#888800','#c4c400','#ffff00']);
const panelA = document.getElementById('panel-a');
function drawHeat(rows, cols){
  const rowH = 190 / rows.length;
  rows.forEach((row, r) => {
    const cells = row.split(' ');
    cells.forEach((cell, g) => {
      const cw = cols[g][1] / cell.length;
      for (let c = 0; c < cell.length; c++){
        const rc = make('rect', {x:cols[g][0] + c * cw, y:35 + r * rowH, width:cw + .05, height:rowH + .05, fill:heatRamp(+cell[c])}, panelA);
        
        
      }
    });
  });
  heatGroups.forEach((name, g) => {
    const bar = make('rect', {x:cols[g][0], y:27.7, width:cols[g][1], height:4.6, fill:GROUP_COLORS[g]}, panelA);
    
    
    const lab = make('text', {x:cols[g][0] + cols[g][1] / 2, y:23.5, class:'head'}, panelA);
    lab.textContent = name;
    
    
  });
}
drawHeat(heatTranscriptome, [[46,17.5],[65,17],[84.5,17],[103.5,17]]);
drawHeat(heatChromatin, [[165,17.7],[184.5,17.5],[204,17.3],[223,17.3]]);
drawHeat(heatMethylome, [[287,17.3],[306,17.3],[326,18],[346,17.3]]);
function heatTicks(labels, x0, step){
  labels.forEach((t, i) => {
    const l = make('text', {x:x0 + i * step, y:258.5, 'text-anchor':'middle'}, panelA);
    l.textContent = t;
    
    
  });
}
heatTicks(heatExprTickLabels, 56, 14);
heatTicks(heatMethTickLabels, 178, 13.8);
heatTicks(heatMethTickLabels, 298, 13.6);

/* ===== PANEL B ===== */
const panelB = document.getElementById('panel-b');
const bY1 = linear(0.35, 0.50, 84.3, 30);
const bX1 = i => 424.7 + i * 12.67;
axisLeft(panelB, 'b-gch-y', bY1, bGchTicks, bGchTickLabels, 417.3, 410.5, true, 16, 97.3);
axisBottom(panelB, 'b-gch-x', bX1, [0,1,2,3], ['','','',''], 97.3, 110, true, 417.3, 470);
drawBoxes(panelB, bX1, bY1, bGchQ1, bGchMedian, bGchQ3, bGchLow, bGchHigh, [[],[],[],[]], GROUP_COLORS, 10, '#8a8a8a');
const bY2 = linear(0.70, 0.90, 87, 20.3);
const bX2 = i => 530.3 + i * 12.67;
axisLeft(panelB, 'b-wcg-y', bY2, bWcgTicks, bWcgTickLabels, 522.7, 515.5, true, 16, 97.3);
axisBottom(panelB, 'b-wcg-x', bX2, [0,1,2,3], ['','','',''], 97.3, 110, true, 522.7, 575.7);
drawBoxes(panelB, bX2, bY2, bWcgQ1, bWcgMedian, bWcgQ3, bWcgLow, bWcgHigh, bWcgOutliers, GROUP_COLORS, 10, '#8a8a8a');

/* ===== PANEL C ===== */
const panelC = document.getElementById('panel-c');
const cX = linear(-2.5, 2.5, 453.3, 522.3);
const cY = linear(-5, 2.5, 224.3, 149);
axisBottom(panelC, 'c-x', cX, umapTicksX, umapTickLabelsX, 230.3, 242.5, false);
axisLeft(panelC, 'c-y', cY, umapTicksY, umapTickLabelsY, 427.3, 418.5, false);
umapIlcp1.forEach(p => {
  const d = make('circle', {cx:cX(p[0]), cy:cY(p[1]), r:2.4, fill:TEAL}, panelC);
  
  
});
umapIlcp2.forEach(p => {
  const d = make('circle', {cx:cX(p[0]), cy:cY(p[1]), r:2.4, fill:RED}, panelC);
  
  
});

/* ===== PANEL D ===== */
const panelD = document.getElementById('panel-d');
const dXL = linear(-2.5, 2.5, 61, 130.3);
const dXR = linear(-2.5, 2.5, 274.3, 342.3);
const dY = linear(-5, 2.5, 379, 308.3);
const gchColor = ramp([.36,.44,.52,.62], ['#a89ad8','#bab4b4','#e0a088','#f22f1c']);
const wcgColor = ramp([.76,.79,.81,.85], ['#2a10e8','#9a8ae0','#c4b6aa','#f5553a']);
axisBottom(panelD, 'd-left-x', dXL, umapTicksX, umapTickLabelsX, 384.3, 398, false);
axisLeft(panelD, 'd-left-y', dY, umapTicksY, umapTickLabelsY, 35.7, 30.5, false);
axisBottom(panelD, 'd-right-x', dXR, umapTicksX, umapTickLabelsX, 384.3, 398, false);
axisLeft(panelD, 'd-right-y', dY, umapTicksY, umapTickLabelsY, 248.3, 243, false);
umapIlcp1.concat(umapIlcp2).forEach((p, i) => {
  const v = i < umapIlcp1.length ? gchIlcp1[i] : gchIlcp2[i - umapIlcp1.length];
  const d = make('circle', {cx:dXL(p[0]), cy:dY(p[1]), r:2.1, fill:gchColor(v), 'fill-opacity':.88}, panelD);
  
  
});
umapIlcp1.concat(umapIlcp2).forEach((p, i) => {
  const v = i < umapIlcp1.length ? wcgIlcp1[i] : wcgIlcp2[i - umapIlcp1.length];
  const d = make('circle', {cx:dXR(p[0]), cy:dY(p[1]), r:2.1, fill:wcgColor(v), 'fill-opacity':.88}, panelD);
  
  
});

/* ===== PANEL E ===== */
const panelE = document.getElementById('panel-e');
const eY1 = linear(0.2, 0.6, 379.7, 305.3);
const eX1 = i => 476 + i * 23.7;
axisLeft(panelE, 'e-gch-y', eY1, eGchTicks, eGchTickLabels, 461.7, 454, true, 288, 383.3);
axisBottom(panelE, 'e-gch-x', eX1, [0,1], ['',''], 383.3, 395, true, 461.7, 514.3);
drawBoxes(panelE, eX1, eY1, eGchQ1, eGchMedian, eGchQ3, eGchLow, eGchHigh, eGchOutliers, [TEAL, RED], 10, '#a0a0a0');
const eY2 = linear(0.77, 0.86, 365.3, 289);
const eX2 = i => 579.3 + i * 23.7;
axisLeft(panelE, 'e-wcg-y', eY2, eWcgTicks, eWcgTickLabels, 565.7, 558, true, 288, 383.3);
axisBottom(panelE, 'e-wcg-x', eX2, [0,1], ['',''], 383.3, 395, true, 565.7, 617.3);
drawBoxes(panelE, eX2, eY2, eWcgQ1, eWcgMedian, eWcgQ3, eWcgLow, eWcgHigh, [[],[]], [TEAL, RED], 10, '#b0b0b0');

/* ===== PANEL F ===== */
const panelF = document.getElementById('panel-f');
function goChart(terms, values, ticks, x, top, step, barH, color, axisTop, axisBottomY, tickY, xName){
  values.forEach((v, i) => {
    const cy = top + i * step;
    const b = make('rect', {x:x(0), y:cy - barH / 2, width:x(v) - x(0), height:barH, fill:color}, panelF);
    
    
    const t = make('line', {x1:x(0) - 2, x2:x(0), y1:cy, y2:cy, stroke:'#8a8a8a', 'stroke-width':.6}, panelF);
    
    
    const l = make('text', {x:20, y:cy + 2.4, class:'go'}, panelF);
    l.textContent = terms[i];
    
    
  });
  const yAxis = make('line', {x1:x(0), x2:x(0), y1:axisTop, y2:axisBottomY, stroke:'#8a8a8a', 'stroke-width':.7}, panelF);
  
  
  axisBottom(panelF, xName, x, ticks, ticks.map(String), axisBottomY, tickY, true, x(0), 210);
}
goChart(goUpTerms, goUpValues, goUpTicks, linear(0, 30, 16.7, 178.4), 455, 11.6, 9.5, '#84dcdc', 437, 520, 533, 'go-up-x');
goChart(goDownTerms, goDownValues, goDownTicks, linear(0, 5, 16.7, 191.3), 591.7, 9.5, 7.6, '#f8b8b6', 579.3, 654.3, 666.5, 'go-down-x');

/* ===== PANEL G ===== */
const panelG = document.getElementById('panel-g');
const gY = linear(-1, 1, 497, 439.3);
const gXL = linear(-4, 4, 279, 378.3);
const gXR = linear(-4, 4, 484, 583.7);
const ptColor = ramp([0,8.8], ['#132b43','#56b1f7']);
axisBottom(panelG, 'g-left-x', gXL, trajTicksX, trajTickLabelsX, 510, 523, false);
axisLeft(panelG, 'g-left-y', gY, trajTicksY, trajTickLabelsY, 274.3, 268, false);
axisBottom(panelG, 'g-right-x', gXR, trajTicksX, trajTickLabelsX, 510, 523, false);
axisLeft(panelG, 'g-right-y', gY, trajTicksY, trajTickLabelsY, 479.3, 471.5, false);
trend(panelG, trajCurve, gXL, gY);
trend(panelG, trajCurve, gXR, gY);
trajPoints.forEach(p => {
  const a = make('circle', {cx:gXL(p[0]), cy:gY(p[1]), r:1.9, fill:ptColor(p[2])}, panelG);
  
  
  const b = make('circle', {cx:gXR(p[0]), cy:gY(p[1]), r:1.9, fill:p[2] < trajClusterSplit ? TEAL : RED}, panelG);
  
  
});

/* ===== PANEL H ===== */
const panelH = document.getElementById('panel-h');
const hXL = linear(0, 7.5, 279, 363.3);
const hYL = linear(0.3, 0.6, 655.3, 595);
const hXR = linear(0, 7.5, 484.3, 566.7);
const hYR = linear(0.76, 0.85, 644, 584.7);
axisBottom(panelH, 'h-left-x', hXL, hTicksX, hTickLabelsX, 658, 671, false);
axisLeft(panelH, 'h-left-y', hYL, hGchTicks, hGchTickLabels, 274.3, 267, false);
axisBottom(panelH, 'h-right-x', hXR, hTicksX, hTickLabelsX, 658, 671, false);
axisLeft(panelH, 'h-right-y', hYR, hWcgTicks, hWcgTickLabels, 480, 472, false);
hGchIlcp1.forEach(p => {
  const d = make('circle', {cx:hXL(p[0]), cy:hYL(p[1]), r:1.7, fill:TEAL}, panelH);
  
  
});
hGchIlcp2.forEach(p => {
  const d = make('circle', {cx:hXL(p[0]), cy:hYL(p[1]), r:1.7, fill:RED}, panelH);
  
  
});
trend(panelH, hGchTrend, hXL, hYL);
hWcgIlcp2.forEach(p => {
  const d = make('circle', {cx:hXR(p[0]), cy:hYR(p[1]), r:1.9, fill:RED}, panelH);
  
  
});
hWcgIlcp1.forEach(p => {
  const d = make('circle', {cx:hXR(p[0]), cy:hYR(p[1]), r:1.9, fill:TEAL}, panelH);
  
  
});
trend(panelH, hWcgTrend, hXR, hYR);
</script>
</body>
</html>
